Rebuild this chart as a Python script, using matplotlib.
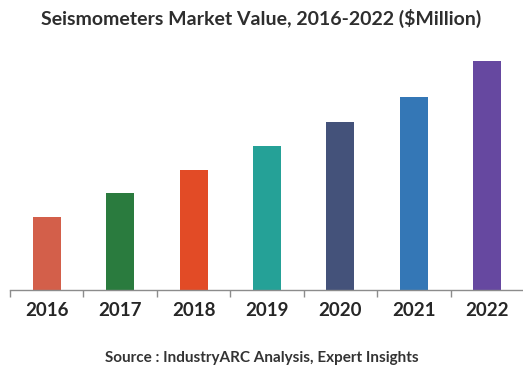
import matplotlib
matplotlib.use("Agg")
import matplotlib.pyplot as plt
import numpy as np

years = ["2016", "2017", "2018", "2019", "2020", "2021", "2022"]
values = [73, 97, 120, 144, 168, 193, 229]
colors = ["#D35F4A", "#2A7B3E", "#E24B26", "#25A197", "#44527A", "#3477B6", "#6648A0"]

plt.rcParams['font.family'] = ['Lato', 'DejaVu Sans']

fig = plt.figure(figsize=(5.23, 3.71), dpi=100)
ax = fig.add_axes([10/523, 1 - 290/371, 514/523, 240/371])

x = np.arange(len(years))
ax.bar(x, values, width=0.38, color=colors)

ax.set_xlim(-0.5, len(years) - 0.5)
ax.set_ylim(0, 240)

# only the bottom axis line, with ticks between the categories
for side in ["top", "right", "left"]:
    ax.spines[side].set_visible(False)
ax.spines["bottom"].set_color("#8c8c8c")
ax.spines["bottom"].set_linewidth(1.0)
ax.set_yticks([])
ax.set_xticks(x)
ax.set_xticklabels(years, fontsize=13.5, fontweight="bold", color="#262626")
ax.tick_params(axis="x", which="major", length=0, pad=9)
ax.set_xticks(np.arange(-0.5, len(years)), minor=True)
ax.tick_params(axis="x", which="minor", length=5, color="#8c8c8c", width=1.0)

fig.text(0.5, 1 - 18/371, "Seismometers Market Value, 2016-2022 ($Million)",
         ha="center", va="center", fontsize=14, fontweight="bold", color="#2e2e2e")
fig.text(0.5, 1 - 358/371, "Source : IndustryARC Analysis, Expert Insights",
         ha="center", va="center", fontsize=11, fontweight="bold", color="#333333")

fig.savefig("out.png", dpi=100)
